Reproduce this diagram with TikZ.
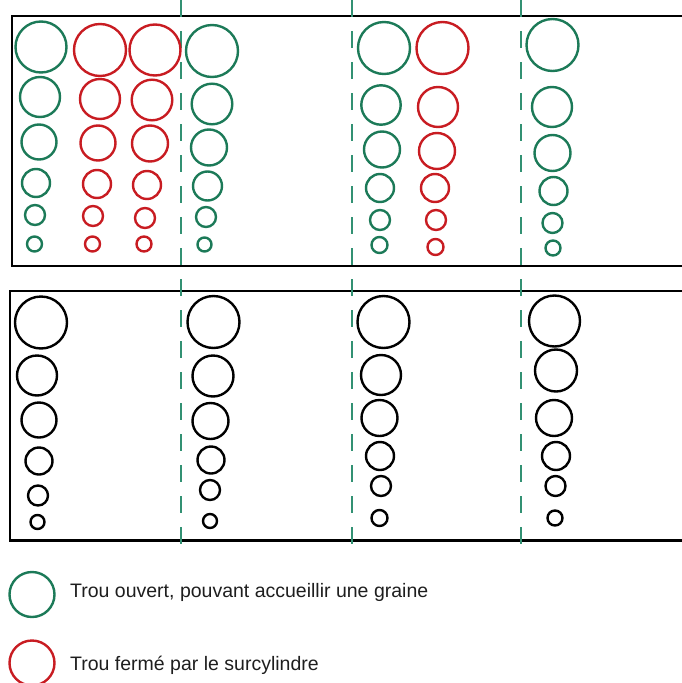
\documentclass[tikz,border=0pt]{standalone}
\usepackage{fontspec}
\setmainfont{Liberation Sans}
\definecolor{holegreen}{RGB}{28,122,88}
\definecolor{holered}{RGB}{200,28,34}
\definecolor{dashgreen}{RGB}{50,145,115}
\definecolor{txt}{RGB}{30,30,30}
\tikzset{
  frame/.style={draw=black, line width=2.8pt},
  sepline/.style={draw=dashgreen, line width=1.2pt, dash pattern=on 17pt off 14pt},
  ghole/.style={draw=holegreen, line width=2.4pt},
  rhole/.style={draw=holered, line width=2.4pt},
  khole/.style={draw=black, line width=2.4pt},
  legtext/.style={anchor=base west, inner sep=0pt, text=txt, font=\fontsize{19.5pt}{23pt}\selectfont}
}
\begin{document}
\begin{tikzpicture}[x=1pt,y=-1pt]
\useasboundingbox (0,0) rectangle (681,683);
% frames (run off the right edge)
\draw[frame] (700,16) -- (12,16) -- (12,266) -- (700,266);
\draw[frame] (700,291) -- (10,291) -- (10,540.5) -- (700,540.5);
% dashed separators
\foreach \xx in {181,352,521} {
  \draw[sepline] (\xx,0) -- (\xx,548);
}
% top panel green
\foreach \x/\y/\r in {
  41/47/25.5, 40/97/20, 39/142/17.5, 36/183/14, 35/215/10, 34.5/244/7.5,
  212/51/26, 212/104/20.3, 209/147.5/18, 207.5/186/14.5, 206/217/10, 204.5/244.5/7,
  384/48/26, 381/105/19.7, 382/149.5/18, 380/188/14, 380/220/10, 379.5/245/8,
  552.5/45/26, 552/107/20, 552.5/153/18, 553.5/191/14, 552.5/223/10, 553/248/7.5}
  \draw[ghole] (\x,\y) circle (\r);
% top panel red
\foreach \x/\y/\r in {
  100/50/26, 100/99/20, 98/143/17.5, 97/184/14, 93/216/10, 92.5/244/7.5,
  155/50/25.5, 152/100/20.3, 150/143.5/18, 147/185/14, 145/218/10, 144/244/7.5,
  442.5/48/26, 438/107/20, 437/151/18, 435/188/14, 436/220/10, 435.5/247/8}
  \draw[rhole] (\x,\y) circle (\r);
% bottom panel black
\foreach \x/\y/\r in {
  41/322.5/26, 37/375.5/20, 39/420/17.5, 39/461/13.5, 38/495.5/10, 37.5/522/7,
  213.5/322/26, 213/376/20.5, 210.5/421/18, 211/460/13.5, 210/490/10, 210/521/7,
  383.5/322/26, 381/375/20, 379.5/418/18, 380/456/14, 381/486/10, 379.5/518/8,
  554.5/321/25.5, 556/370.5/21, 554/418/18, 556/456/14, 555.5/486/10, 555/518/7.5}
  \draw[khole] (\x,\y) circle (\r);
% legend
\draw[ghole] (32,594.5) circle (22.5);
\draw[rhole] (32,663) circle (22.5);
\node[legtext] (l1) at (70,597) {Trou ouvert, pouvant accueillir une graine};
\node[legtext] (l2) at (70,670) {Trou fermé par le surcylindre};
\end{tikzpicture}
\end{document}
